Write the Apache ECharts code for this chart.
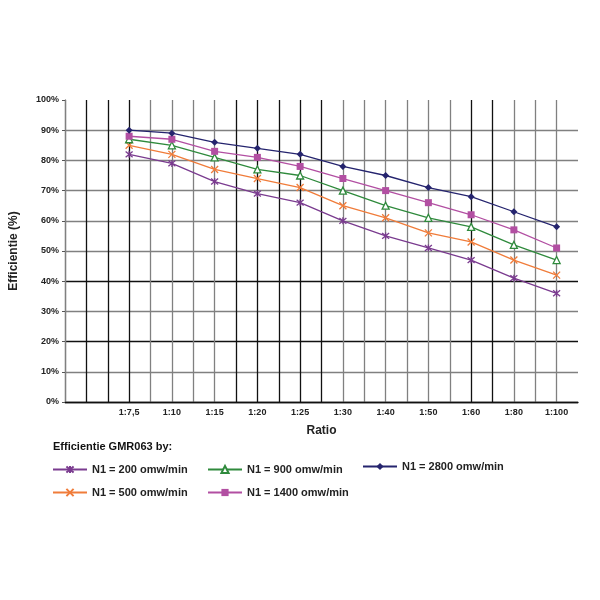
<!DOCTYPE html>
<html>
<head>
    <meta charset="utf-8" />
    <title>Efficientie GMR063</title>
    <script src="https://cdn.jsdelivr.net/npm/echarts@6/dist/echarts.min.js"></script>
</head>
<body style="margin:0">
    <div id="main" style="width: 600px;height:600px;"></div>

    <script type="text/javascript">
        // categories (first one empty, like the original sheet)
        var ratios = ['', '1:7,5', '1:10', '1:15', '1:20', '1:25', '1:30', '1:40', '1:50', '1:60', '1:80', '1:100'];

        // efficiency in % per input speed
        var n200  = [null, 82, 79, 73, 69, 66, 60, 55, 51, 47, 41, 36];
        var n500  = [null, 85, 82, 77, 74, 71, 65, 61, 56, 53, 47, 42];
        var n900  = [null, 87, 85, 81, 77, 75, 70, 65, 61, 58, 52, 47];
        var n1400 = [null, 88, 87, 83, 81, 78, 74, 70, 66, 62, 57, 51];
        var n2800 = [null, 90, 89, 86, 84, 82, 78, 75, 71, 68, 63, 58];

        var seriesNames = ['N1 = 200 omw/min', 'N1 = 500 omw/min', 'N1 = 900 omw/min',
                           'N1 = 1400 omw/min', 'N1 = 2800 omw/min'];

        // half-step grid lines, some darker like in the scan
        var halfSteps = [];
        for (var i = 0; i < 24; i++) halfSteps.push('');
        var B = '#111', G = '#808080';
        var vColors = [G, B, B, B, G, G, G, G, B, B, B, B, B, G, G, G, G, G, G, B, B, G, G, G];
        var hColors = [B, G, B, G, B, G, G, G, G, G];

        var asterisk = 'path://M0,0L10,10M10,0L0,10M5,-1L5,11';
        var cross = 'path://M0,0L10,10M10,0L0,10';

        var font = 'Liberation Sans, Arial, sans-serif';

        function line(name, data, color, symbol, size, fill) {
            return {
                name: name,
                type: 'line',
                data: data,
                symbol: symbol,
                symbolSize: size,
                lineStyle: { color: color, width: 1.3 },
                itemStyle: {
                    color: fill || color,
                    borderColor: color,
                    borderWidth: (symbol.indexOf('path') === 0 || fill) ? 1.3 : 0
                },
                animation: false
            };
        }

        var myChart = echarts.init(document.getElementById('main'));

        var option = {
            backgroundColor: '#fff',
            textStyle: { fontFamily: font },
            title: {
                text: 'Efficientie GMR063 by:',
                left: 48,
                top: 436,
                textStyle: { fontSize: 11, fontWeight: 'bold', color: '#111', fontFamily: font }
            },
            legend: [
                { data: [seriesNames[0], seriesNames[1]], left: 47, top: 459 },
                { data: [seriesNames[2], seriesNames[3]], left: 202, top: 459 },
                { data: [seriesNames[4]], left: 357, top: 456 }
            ].map(function (l) {
                l.orient = 'vertical';
                l.itemWidth = 34;
                l.itemHeight = 9;
                l.itemGap = 12;
                l.textStyle = { fontSize: 11, fontWeight: 'bold', color: '#222', fontFamily: font };
                return l;
            }),
            grid: { left: 63, right: 22, top: 100, bottom: 198, containLabel: false },
            xAxis: [
                {
                    type: 'category',
                    data: ratios,
                    boundaryGap: true,
                    name: 'Ratio',
                    nameLocation: 'middle',
                    nameGap: 23,
                    nameTextStyle: { fontSize: 12, fontWeight: 'bold', color: '#222' },
                    axisLine: { lineStyle: { color: '#111', width: 1.3 } },
                    axisTick: { show: false },
                    axisLabel: { fontSize: 9, fontWeight: 'bold', color: '#222', margin: 6 },
                    splitLine: { show: false }
                },
                {
                    type: 'category',
                    data: halfSteps,
                    boundaryGap: true,
                    position: 'bottom',
                    axisLine: { show: false },
                    axisTick: { show: false },
                    axisLabel: { show: false },
                    splitLine: {
                        show: true,
                        showMaxLine: false,
                        lineStyle: { color: vColors, width: 1.3 }
                    }
                }
            ],
            yAxis: {
                type: 'value',
                min: 0,
                max: 100,
                interval: 10,
                name: 'Efficientie (%)',
                nameLocation: 'middle',
                nameRotate: 90,
                nameGap: 45,
                nameTextStyle: { fontSize: 12, fontWeight: 'bold', color: '#222' },
                axisLine: { show: true, lineStyle: { color: '#808080', width: 1.3 } },
                axisTick: { show: true, length: 3, lineStyle: { color: '#555' } },
                axisLabel: { fontSize: 9, fontWeight: 'bold', color: '#222', formatter: '{value}%', margin: 6 },
                splitLine: {
                    show: true,
                    showMaxLine: false,
                    lineStyle: { color: hColors, width: 1.3 }
                }
            },
            series: [
                line(seriesNames[0], n200, '#7a3b8f', asterisk, 7),
                line(seriesNames[1], n500, '#f07c3a', cross, 7),
                line(seriesNames[2], n900, '#2f8a3c', 'triangle', 7, '#fff'),
                line(seriesNames[3], n1400, '#b24fa2', 'rect', 7),
                line(seriesNames[4], n2800, '#25246e', 'diamond', 7)
            ]
        };

        myChart.setOption(option);
    </script>
</body>
</html>
